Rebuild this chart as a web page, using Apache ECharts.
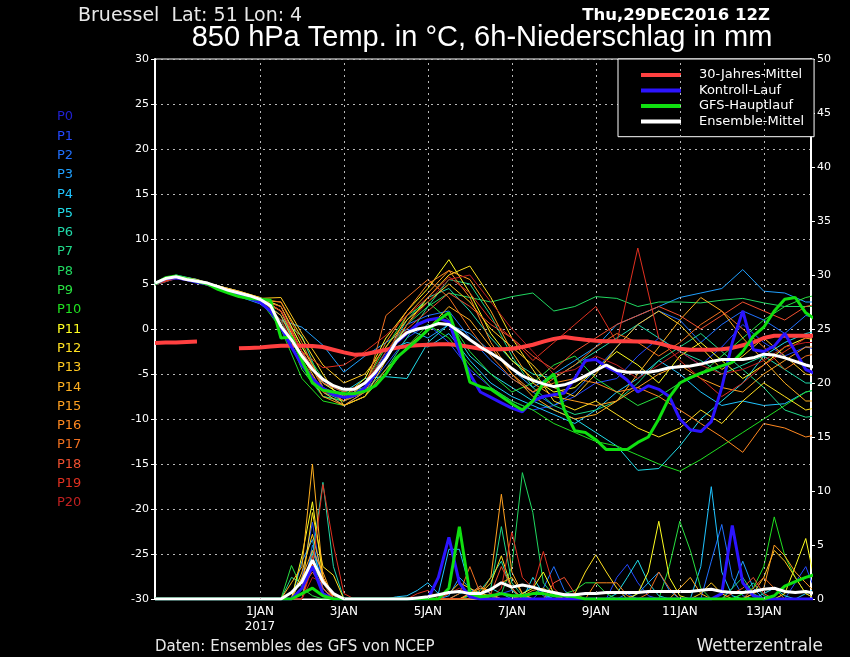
<!DOCTYPE html>
<html><head><meta charset="utf-8">
<script src="https://cdn.jsdelivr.net/npm/echarts@6/dist/echarts.min.js"></script>
<style>html,body{margin:0;padding:0;background:#000;}#c{width:850px;height:657px;}</style>
</head><body><div id="c"></div>
<script>
// ---- time axis (hours after 29 DEC 2016 12Z) ----
const xTickHours = [60,108,156,204,252,300,348];
const xTickLabels = ['1JAN\n2017','3JAN','5JAN','7JAN','9JAN','11JAN','13JAN'];

// ---- 6-hourly temperature series (850 hPa, °C) ----
const climT = [-1.55,-1.5,-1.5,-1.45,-1.4,null,null,null, -2.15,-2.1,-2.05,-1.95,-1.85,-1.85,-1.85,-1.9, -2.0,-2.3,-2.6,-2.85,-2.8,-2.55,-2.3,-2.1, -1.9,-1.8,-1.75,-1.7,-1.7,-1.8,-2.0,-2.2, -2.25,-2.25,-2.2,-2.0,-1.75,-1.4,-1.1,-0.9, -1.05,-1.2,-1.3,-1.35,-1.35,-1.35,-1.38,-1.4, -1.6,-1.9,-2.2,-2.3,-2.3,-2.3,-2.25,-2.1, -1.8,-1.5,-1.0,-0.75,-0.75,-0.75,-0.75,-0.75];
const meanT = [5.1,5.6,5.8,5.5,5.3,5.1,4.7,4.3, 4.0,3.7,3.3,2.6,0.3,-1.2,-3.0,-4.5, -5.6,-6.3,-6.7,-6.7,-6.0,-4.8,-3.3,-1.4, -0.4,0.0,0.2,0.6,0.5,-0.3,-1.2,-2.0, -2.7,-3.4,-4.4,-5.2,-5.7,-6.1,-6.4,-6.2, -5.8,-5.2,-4.6,-4.0,-4.6,-4.8,-4.8,-4.8, -4.6,-4.3,-4.2,-4.1,-3.9,-3.6,-3.4,-3.4, -3.4,-3.2,-2.8,-2.9,-3.2,-3.6,-4.0,-4.3];
const ctrlT = [5.0,5.6,5.7,5.5,5.2,5.0,4.6,4.2, 3.8,3.4,3.0,2.0,0.2,-2.0,-4.0,-5.5, -6.6,-7.3,-7.6,-7.4,-6.5,-5.0,-3.0,-1.5, -0.5,0.5,1.0,1.2,0.8,-2.5,-5.0,-7.0, -7.6,-8.2,-8.8,-9.2,-8.0,-7.5,-7.3,-7.1, -5.5,-3.5,-3.4,-4.2,-4.8,-5.7,-7.0,-6.3, -6.7,-7.5,-10.0,-11.2,-11.4,-10.3,-6.5,-1.5, 2.0,-2.3,-2.5,-1.9,-0.5,-2.5,-4.5,-5.0];
const gfsT = [5.0,5.7,5.9,5.6,5.3,5.0,4.4,4.0, 3.6,3.4,3.3,3.2,-1.0,-0.9,-3.5,-6.0, -6.8,-7.0,-7.2,-7.2,-6.9,-6.3,-5.0,-3.2, -2.2,-1.2,-0.1,1.0,1.8,-1.5,-5.9,-6.4, -6.7,-7.5,-8.3,-9.0,-8.0,-6.0,-5.0,-9.0, -11.3,-11.5,-12.3,-13.4,-13.4,-13.4,-12.6,-12.0, -10.0,-7.6,-6.0,-5.4,-4.9,-4.5,-4.1,-3.7, -2.5,-0.8,0.2,2.0,3.3,3.5,1.8,1.0];

// ---- 12-hourly temperature of ensemble members P1..P20 ----
const tP1 = [5.0,5.7,5.3,4.6,3.8,3.0, 1.0,-3.5,-7.0,-8.5,-7.0,-4.0, -1.0,0.5,-1.5,-4.5,-6.5,-8.0,-9.0,-8.5,-7.5,-6.0, -5.5,-3.0,-1.0,-2.5,-4.0,-2.0,0.5,-1.5,-3.0,-2.0,-2.5];
const tP2 = [5.1,5.8,5.4,4.8,4.2,3.4, 2.0,-2.5,-6.0,-7.5,-6.5,-3.5, 0.5,1.5,2.0,-1.0,-3.5,-5.5,-7.0,-8.5,-7.0,-4.5, -2.0,0.5,2.0,1.0,-1.5,0.5,2.0,1.0,-0.5,1.5,1.0];
const tP3 = [4.9,5.6,5.2,4.5,3.6,2.8, 1.0,0.2,-1.8,-4.8,-3.0,-1.5, 0.0,-1.0,0.5,-0.5,-2.5,-4.5,-6.5,-5.0,-3.5,-2.0, 0.5,1.5,2.5,3.5,4.0,4.5,6.6,4.2,4.0,3.0,3.0];
const tP4 = [5.0,5.9,5.5,4.6,4.0,3.2, 0.5,-4.0,-7.5,-8.0,-6.5,-2.5, -1.5,-2.0,-0.5,-3.5,-6.0,-7.5,-8.5,-9.5,-10.5,-9.0, -7.0,-5.5,-3.5,-5.0,-7.0,-8.5,-8.0,-8.5,-8.3,-7.0,-6.5];
const tP5 = [5.2,6.0,5.5,4.7,4.1,3.3, 1.5,-3.0,-6.0,-7.0,-5.5,-5.3, -5.5,-1.5,0.5,-3.0,-5.0,-6.5,-8.0,-9.0,-10.0,-11.5, -13.0,-15.7,-15.5,-13.0,-10.0,-8.0,-6.0,-3.0,-1.5,-0.5,0.0];
const tP6 = [5.0,5.7,5.3,4.6,3.9,3.1, 1.0,-0.8,-6.5,-7.5,-6.0,-3.0, 1.0,3.5,4.5,2.0,-1.0,-3.5,-5.0,-5.5,-4.0,-2.5, -1.0,0.5,-1.0,-2.5,-3.5,-5.0,-4.0,-3.0,-4.5,-6.0,-6.0];
const tP7 = [5.1,5.8,5.4,4.7,4.0,3.3, 2.0,-3.5,-7.0,-8.0,-7.0,-4.5, -1.0,2.5,5.5,5.0,1.5,-3.0,-6.5,-8.5,-9.5,-9.0, -8.0,-6.0,-3.5,-2.0,-0.5,-2.5,-4.5,-6.5,-9.0,-9.8,-9.5];
const tP8 = [5.0,5.8,5.4,4.6,4.1,3.4, 2.5,-2.0,-5.5,-7.0,-6.5,-3.0, 0.5,2.5,4.0,3.5,3.0,3.6,4.0,2.0,2.5,3.6, 3.4,2.5,3.0,3.0,2.9,3.2,3.4,2.9,2.5,2.5,2.5];
const tP9 = [5.0,5.7,5.3,4.5,3.9,3.1, 1.0,-4.5,-7.5,-8.0,-6.0,-2.0, 1.5,3.0,1.0,-2.5,-5.0,-7.0,-6.0,-4.0,-3.0,-5.5, -7.0,-8.5,-7.5,-6.0,-5.0,-3.0,-1.0,1.0,2.5,3.5,4.0];
const tP10 = [5.1,5.9,5.4,4.6,4.0,3.2, 0.0,-5.5,-8.0,-8.5,-7.5,-5.0, -2.0,0.5,-1.0,-4.0,-6.5,-8.0,-9.0,-10.5,-11.5,-12.5, -13.0,-14.0,-15.0,-15.8,-14.5,-13.0,-11.5,-10.0,-8.5,-7.0,-6.5];
const tP11 = [5.0,5.8,5.4,4.8,4.2,3.5, 2.5,-2.0,-6.0,-7.5,-5.5,-1.0, 2.0,4.5,7.7,4.0,-0.5,-3.5,-5.5,-7.0,-6.5,-4.5, -2.5,-4.0,-6.0,-3.0,-1.5,-3.5,-5.5,-4.0,-2.0,-1.0,-1.5];
const tP12 = [4.9,5.7,5.3,4.6,4.0,3.2, 3.0,-1.0,-5.0,-8.5,-7.5,-3.5, 0.5,3.5,6.0,7.0,3.5,-1.0,-4.5,-8.0,-9.0,-8.0, -9.5,-11.0,-12.0,-11.0,-9.0,-10.5,-8.0,-6.0,-7.5,-9.0,-8.5];
const tP13 = [5.0,5.8,5.4,4.7,4.1,3.4, 3.5,-0.5,-4.0,-6.0,-5.0,-2.0, 1.0,3.0,5.0,3.0,0.0,-2.0,-4.0,-6.5,-7.5,-5.0, -2.0,0.5,2.0,0.5,-2.0,-4.5,-3.0,-1.0,-3.0,-5.0,-5.5];
const tP14 = [5.1,5.9,5.5,4.8,4.2,3.5, 2.0,-3.0,-7.0,-8.5,-7.5,-4.5, -2.0,0.0,2.5,1.0,-2.0,-5.0,-7.5,-9.0,-10.0,-9.5, -8.0,-5.0,-2.0,1.0,3.5,2.0,-1.0,-3.5,-6.0,-8.0,-8.0];
const tP15 = [5.0,5.7,5.3,4.6,4.0,3.2, 1.5,-3.5,-7.5,-8.5,-7.0,-3.0, 1.5,4.0,6.5,5.5,2.0,-2.5,-6.0,-7.5,-8.0,-8.5, -8.0,-6.5,-5.0,-4.0,-5.5,-6.5,-7.0,-5.0,-3.5,-2.0,-2.0];
const tP16 = [5.0,5.8,5.3,4.6,3.9,3.2, 2.0,-2.5,-6.5,-8.0,-6.0,-1.5, 2.0,5.0,6.5,3.5,-1.5,-5.0,-7.0,-6.0,-5.5,-6.0, -7.0,-6.5,-7.5,-9.0,-10.5,-12.0,-13.7,-10.5,-11.0,-12.0,-11.5];
const tP17 = [5.1,5.8,5.4,4.7,4.0,3.3, 3.0,-1.5,-6.5,-8.0,-7.0,1.5, 3.5,5.5,3.5,0.0,-3.0,-5.5,-7.0,-5.5,-4.0,-2.0, -0.5,-1.5,-3.0,-1.5,0.5,2.0,0.0,-2.0,-4.5,-3.0,-2.5];
const tP18 = [5.0,5.7,5.3,4.6,4.0,3.2, 2.5,-2.5,-6.0,-7.0,-6.0,-3.0, 0.0,2.0,4.0,2.5,0.5,-1.0,-3.0,-4.5,-2.5,-1.0, 0.5,1.5,2.5,1.5,0.0,1.5,3.0,2.0,1.0,2.5,3.0];
const tP19 = [5.0,5.8,5.4,4.7,4.1,3.4, 2.0,-2.5,-4.3,-4.0,-2.5,-0.7, 1.5,3.5,5.8,4.0,1.0,-1.0,-3.5,-1.5,0.5,2.5, -1.5,9.0,-1.0,-3.5,-5.5,-7.5,-6.0,-4.0,-2.5,-1.0,-1.0];
const tP20 = [4.9,5.6,5.2,4.5,3.8,3.0, 1.0,-3.5,-7.0,-7.5,-6.0,-2.5, 0.5,3.0,5.5,6.0,3.0,0.0,-2.5,-5.0,-4.5,-3.0, -4.0,-5.5,-4.0,-2.5,-4.0,-5.0,-4.5,-3.5,-2.0,-1.5,-1.5];

// ---- 6-hourly precipitation (mm / 6h) ----
const meanR = [0,0,0,0,0,0,0,0, 0,0,0,0,0,0.6,1.6,3.6, 1.6,0.5,0,0,0,0,0,0, 0,0.1,0.2,0.4,0.6,0.7,0.5,0.5, 0.9,1.5,1.1,1.3,1.1,0.8,0.6,0.4, 0.4,0.5,0.5,0.6,0.6,0.6,0.6,0.7, 0.7,0.7,0.7,0.7,0.8,0.9,0.7,0.6, 0.6,0.7,0.9,1.0,0.7,0.6,0.7,0.5];
const ctrlR = [0,0,0,0,0,0,0,0, 0,0,0,0,0,0,1.0,3.0, 0.5,0,0,0,0,0,0,0, 0,0,0,2.0,5.7,1.5,0.2,0, 0,0,0,0,0,0,0,0, 0,0,0,0,0,0,0,0, 0,0,0,0,0,0,0.5,6.8, 1.5,0.3,0,0,0,0,0,0];
const gfsR = [0,0,0,0,0,0,0,0, 0,0,0,0,0,0,0.5,1.0, 0.3,0,0,0,0,0,0,0, 0,0,0,0,1.0,6.7,0.5,0.2, 0.3,0.5,0.3,0.3,0.5,0.5,0.3,0.3, 0.2,0,0,0,0,0,0,0, 0,0,0,0,0,0,0,0, 0,0,0,0.3,1.2,1.6,2.0,2.3];
const rP1 = [0,0,0,0,0,0,0,0, 0,0,0,0,0,0,2,7.1, 1,0,0,0,0,0,0,0, 0,0,0,0,0,0,0,0.3, 0.2,0.5,0.8,0.2,0,0,0,0, 0.3,0,0,0,2.0,3.2,1.5,0.3, 0,0,0,0,0,0,0,0, 0,0,0,0,0,1.5,3.0,0.5];
const rP2 = [0,0,0,0,0,0,0,0, 0,0,0,0,0,0,0,5, 2,0,0,0,0,0,0,0, 0,0,0,0,0,0,0.5,1.2, 0.4,0,0,0,0,1.0,3.0,0.8, 0,0,0,0,0,0.5,0,0, 0,0,0,0,0,3.5,6.9,2.0, 0.3,0,0,0,0,0,0,0];
const rP3 = [0,0,0,0,0,0,0,0, 0,0,0,0,0,0,3.5,5.5, 0.5,0,0,0,0,0,0,0, 0,0,0,0,0.3,2,1,0.3, 0,0,0,0.5,1.2,0.3,0,0, 0,0,0,0,0,0,0.5,1.5, 2.5,0.8,0,0,0,0,0,1.0, 3.5,1.0,0,0,0,0,0,0];
const rP4 = [0,0,0,0,0,0,0,0, 0,0,0,0,0,0,0,4.5, 1.5,0.5,0,0,0,0,0,0.2, 0.3,0.8,1.5,0.5,4.6,4.6,1.0,0.3, 0,0,0,0,0,0,0.5,0.2, 0,0,0,0,0,0,0,0, 0,0,0,0,3.0,10.4,2.5,0.3, 0,0,0,0,0,0,0.5,1.0];
const rP5 = [0,0,0,0,0,0,0,0, 0,0,0,0,0,0,1,3, 1,0,0,0,0,0,0,0, 0,0,0,0,0,0.5,0.8,0.3, 1.0,0.5,0,0,2.0,0.5,0,0, 0,0,0,0,0.5,2.0,3.6,1.5, 0.3,0,0,0,0,0,0,0, 0,0,0.5,1.0,0.3,0,0,0];
const rP6 = [0,0,0,0,0,0,0,0, 0,0,0,0,0,0,0,4, 10.8,3,0,0,0,0,0,0, 0,0,0,0,0,0,0.3,0.8, 2.0,3.5,0.8,0,0,0,0,0, 0,0,0,0,0,0,0,0, 0,0,0,0,0,0,0,0, 0.5,1.5,0.3,0,0,0,0,0];
const rP7 = [0,0,0,0,0,0,0,0, 0,0,0,0,0,2,1.5,3, 0.5,0,0,0,0,0,0,0, 0,0,0,0,0,0,0,0.5, 1.0,6.7,1.5,0.3,0,0,0,0, 0,0,0,0,0,0,0,0, 0,0,0,0,0,0,0,1.0, 2.0,0.5,0,0,0,0,0,0];
const rP8 = [0,0,0,0,0,0,0,0, 0,0,0,0,0,0,1,3, 1.5,0,0,0,0,0,0,0, 0,0,0,0,0,0,0,0, 0,0.5,3,11.7,8.0,1.5,0.3,0, 0,0,0,0,0,0,0,0, 0,0,0,0,0,0,0,0, 0,0,0,0,0,0,0,0];
const rP9 = [0,0,0,0,0,0,0,0, 0,0,0,0,0,3.1,1,0.3, 0,0,0,0,0,0,0,0, 0,0,0,0,0,0,0.3,0, 0,0,0,0,0,0,0,0.5, 0.8,1.5,1.5,0.5,0,0,0,0, 0,3.0,7.2,4.5,1.0,0,0,0, 0,0,0,0,0,0,0,0];
const rP10 = [0,0,0,0,0,0,0,0, 0,0,0,0,0,0,2,3, 0.5,0,0,0,0,0,0,0, 0,0,0,0,0,0,0,0, 0,0,0,0,0.5,1.0,0.3,0, 0,0,0,0,0,0,0,0, 0,0,0,0,0,0,0,0, 0.5,1.0,3,7.6,4,2,0.5,0];
const rP11 = [0,0,0,0,0,0,0,0, 0,0,0,0,0,0,4,9, 2,0,0,0,0,0,0,0, 0,0,0,0,0,0,0,0, 0,0,0,0.5,1.0,2.5,0.5,0, 0,0,0,0,0,0,0.5,2.5, 7.2,2.0,0.3,0,0,0,0,0, 0,0,0,0,0.5,3,5.6,1.0];
const rP12 = [0,0,0,0,0,0,0,0, 0,0,0,0,0,0,1,8, 3,2.2,0,0,0,0,0,0, 0,0,0,0,0,0,0,0.5, 1.5,4.0,1.0,0,0,0,0,0, 0.5,2.5,4.1,2.5,1.0,0,0,0, 0,0,0,0,0,0,0,0, 0,0,0,0,0,0,0,0];
const rP13 = [0,0,0,0,0,0,0,0, 0,0,0,0,0,0,2.5,6, 2,0,0,0,0,0,0,0, 0,0,0,0,0.5,1.5,1.0,0.5, 0.3,0,0,0,0,0,0,0, 0,0,0,0,0,0,0,0, 0,0,0,0,0.5,1.5,0.5,0, 0,0.5,2.0,4.5,3.5,2.0,0.5,0];
const rP14 = [0,0,0,0,0,0,0,0, 0,0,0,0,0,1.5,3,12.5, 2,0.3,0,0,0,0,0,0, 0,0,0,0,0,0,0.5,1.0, 0.8,1.5,2.0,0.5,0,0,0,0, 0,0,0,0,0,0,0,0, 0,0,1.0,2.0,0.5,0,0,0, 0,0,0,0,0,0,0,0];
const rP15 = [0,0,0,0,0,0,0,0, 0,0,0,0,0,0,2,4.5, 2.5,0,0,0,0,0,0,0, 0,0,0,0,0,0,0.5,0.5, 2.0,9.7,2.5,0.5,0,0,0,0, 0,0,0,0,0,0,0,0, 0,0,0,0,0,0,0,0, 0,0.5,1.0,5.0,4.0,2.5,1.5,0.5];
const rP16 = [0,0,0,0,0,0,0,0, 0,0,0,0,0,0,0,3.5, 2.0,0,0,0,0,0,0,0, 0,0,0,0,0,0,0.5,1.2, 0.5,0,0,0.3,0.8,1.0,0.3,0, 0,0,1.5,1.5,1.5,0.3,0,0, 0,0,0,0,0,0,0,0, 0,0,0,0,0,0,0,0];
const rP17 = [0,0,0,0,0,0,0,0, 0,0,0,0,0,0,1,2.5, 1,0,0,0,0,0,0,0, 0,0,0,0,0,0.5,3.0,0.5, 0,0,0,0,0,0,0,0, 0,0,0,0,0,0,0,0.5, 2.5,1.0,0,0,0,0,0,0, 0,1.0,2.0,1.0,0,0,0,0];
const rP18 = [0,0,0,0,0,0,0,0, 0,0,0,0,0,0,0,4, 1,0,0,0,0,0,0,0, 0,0,0,0,0,0,0,0, 0.5,3.0,1.0,0,0,0,1.5,2.0, 0.5,0,0,0,0,0,0,0, 0,0,0,0,0,0,0,0.5, 1.0,2.0,0.5,0,0,0,0,0];
const rP19 = [0,0,0,0,0,0,0,0, 0,0,0,0,0,0,0,3, 10.6,5,0.5,0,0,0,0,0, 0,0.5,0.8,0,0,0,0,0, 0,1.0,6.2,2.0,1.0,4.4,1.0,0, 0,0,0,0,0,0,0,0, 0,0,0,0,0,0,0,0, 0,0,0,0,0,0,0,0];
const rP20 = [0,0,0,0,0,0,0,0, 0,0,0,0,0,0,0,2, 1.5,0,0,0,0,0,0,0, 0,0,0,0,0.5,1.0,0.3,0, 0,0,0,0,0,0,0,0, 0,0,0,0,0,0,0,0, 0,0,0,0,0,0,0,0, 0,0,0,0,0,0,0,0];

const memberNames = ['P1','P2','P3','P4','P5','P6','P7','P8','P9','P10','P11','P12','P13','P14','P15','P16','P17','P18','P19','P20'];
const memberTemps = [tP1,tP2,tP3,tP4,tP5,tP6,tP7,tP8,tP9,tP10,tP11,tP12,tP13,tP14,tP15,tP16,tP17,tP18,tP19,tP20];
const memberRains = [rP1,rP2,rP3,rP4,rP5,rP6,rP7,rP8,rP9,rP10,rP11,rP12,rP13,rP14,rP15,rP16,rP17,rP18,rP19,rP20];
const memberColors = ['#2448ff','#2070ff','#20a0ff','#20c4ff','#20dce8','#20d8a8','#20d888','#20d860','#28e040','#20e020','#ffff20','#ffe020','#ffc820','#ffb020','#ffa020','#ff8820','#f07020','#f05030','#e03020','#c02020'];
const p0Color = '#2020d0';
const legendNames = ['30-Jahres-Mittel','Kontroll-Lauf','GFS-Hauptlauf','Ensemble-Mittel'];
const legendColors = ['#ff4040','#2c14ff','#10e010','#ffffff'];

const FONT = '"DejaVu Sans", sans-serif';
const chart = echarts.init(document.getElementById('c'));

function pairs(arr, step){ return arr.map((v,i)=>[i*step, v]); }

const series = [];
// vertical dotted grid lines at the date ticks
series.push({type:'line', data:[], silent:true, z:1,
  markLine:{silent:true, symbol:'none', label:{show:false},
    lineStyle:{color:'#b8b8b8', type:[2,4], width:1},
    data: xTickHours.map(h=>({xAxis:h}))}});
// precipitation of members
memberRains.forEach((r,j)=>series.push({name:memberNames[j]+'R', type:'line', yAxisIndex:1, data:pairs(r,6),
  symbol:'none', silent:true, z:2, lineStyle:{width:1, color:memberColors[j]}}));
series.push({name:'ctrlR', type:'line', yAxisIndex:1, data:pairs(ctrlR,6), symbol:'none', silent:true, z:3, lineStyle:{width:3, color:legendColors[1]}});
series.push({name:'gfsR', type:'line', yAxisIndex:1, data:pairs(gfsR,6), symbol:'none', silent:true, z:3, lineStyle:{width:3, color:legendColors[2]}});
series.push({name:'meanR', type:'line', yAxisIndex:1, data:pairs(meanR,6), symbol:'none', silent:true, z:4, lineStyle:{width:3, color:'#ffffff'}});
// temperatures of members
memberTemps.forEach((t,j)=>series.push({name:memberNames[j], type:'line', data:pairs(t,12),
  symbol:'none', silent:true, z:2, lineStyle:{width:1, color:memberColors[j]}}));
series.push({name:legendNames[0], type:'line', data:pairs(climT,6), symbol:'none', silent:true, z:5, color:legendColors[0], lineStyle:{width:4, color:legendColors[0]}});
series.push({name:legendNames[1], type:'line', data:pairs(ctrlT,6), symbol:'none', silent:true, z:5, color:legendColors[1], lineStyle:{width:3, color:legendColors[1]}});
series.push({name:legendNames[2], type:'line', data:pairs(gfsT,6), symbol:'none', silent:true, z:5, color:legendColors[2], lineStyle:{width:3, color:legendColors[2]}});
series.push({name:legendNames[3], type:'line', data:pairs(meanT,6), symbol:'none', silent:true, z:6, color:legendColors[3], lineStyle:{width:3, color:legendColors[3]}});

const pLabels = ['P0'].concat(memberNames);
const pColors = [p0Color].concat(memberColors);
const graphics = [
  {type:'text', x:78, y:16, style:{text:'Bruessel  Lat: 51 Lon: 4', fill:'#e8e8e8', font:'19px '+FONT, textVerticalAlign:'middle'}},
  {type:'text', x:770, y:16, style:{text:'Thu,29DEC2016 12Z', fill:'#ffffff', font:'bold 16.5px '+FONT, textAlign:'right', textVerticalAlign:'middle'}},
  {type:'text', x:482, y:38, style:{text:'850 hPa Temp. in °C, 6h-Niederschlag in mm', fill:'#ffffff', font:'29px "Liberation Sans", sans-serif', textAlign:'center', textVerticalAlign:'middle'}},
  {type:'text', x:155, y:647, style:{text:'Daten: Ensembles des GFS von NCEP', fill:'#e8e8e8', font:'15px '+FONT, textVerticalAlign:'middle'}},
  {type:'text', x:823, y:647, style:{text:'Wetterzentrale', fill:'#e8e8e8', font:'17px '+FONT, textAlign:'right', textVerticalAlign:'middle'}}
];
pLabels.forEach((p,i)=>graphics.push({type:'text', x:57, y:117+i*19.3,
  style:{text:p, fill:pColors[i], font:'13px '+FONT, textVerticalAlign:'middle'}}));

chart.setOption({
  animation:false,
  backgroundColor:'#000000',
  grid:{left:155, right:39, top:59, bottom:58, show:true, borderColor:'#ffffff', borderWidth:1, backgroundColor:'transparent'},
  legend:{
    data: legendNames, left:618, top:59, orient:'vertical', icon:'rect', itemWidth:40, itemHeight:4, itemGap:1.3,
    padding:[9,10,8,23], backgroundColor:'#000000', borderColor:'#ffffff', borderWidth:1, selectedMode:false,
    textStyle:{color:'#ffffff', fontSize:13, fontFamily:FONT, lineHeight:14.2, padding:[0,0,0,13]}
  },
  xAxis:{type:'value', min:0, max:375,
    axisLine:{show:true, onZero:false, lineStyle:{color:'#ffffff', width:1}},
    axisTick:{show:false},
    splitLine:{show:false},
    axisLabel:{customValues:xTickHours, color:'#ffffff', fontSize:12, fontFamily:FONT, margin:5, lineHeight:15,
      formatter:(v)=>{const k=xTickHours.indexOf(Math.round(v)); return k>=0?xTickLabels[k]:'';}}
  },
  yAxis:[
    {type:'value', min:-30, max:30, interval:5, position:'left',
      axisLine:{show:true, onZero:false, lineStyle:{color:'#ffffff', width:2}},
      axisTick:{show:true, length:4, lineStyle:{color:'#ffffff'}},
      axisLabel:{color:'#ffffff', fontSize:11, fontFamily:FONT, margin:6},
      splitLine:{show:true, lineStyle:{color:'#b8b8b8', type:[2,4], width:1}}},
    {type:'value', min:0, max:50, interval:5, position:'right',
      axisLine:{show:true, onZero:false, lineStyle:{color:'#ffffff', width:2}},
      axisTick:{show:true, length:4, lineStyle:{color:'#ffffff'}},
      axisLabel:{color:'#ffffff', fontSize:11, fontFamily:FONT, margin:6},
      splitLine:{show:false}}
  ],
  graphic: graphics,
  series: series
});
</script></body></html>
